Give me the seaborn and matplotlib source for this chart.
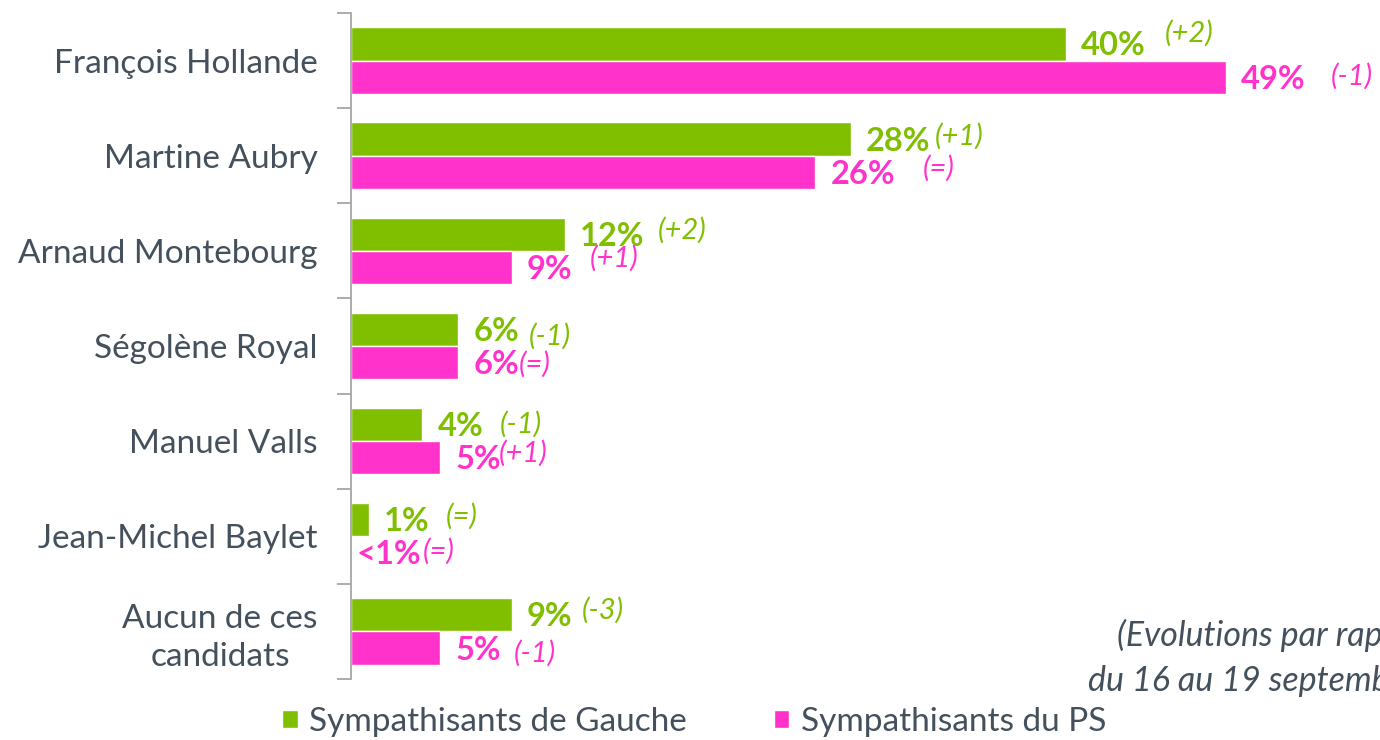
import pandas as pd
import numpy as np
import matplotlib
matplotlib.use("Agg")
import matplotlib.pyplot as plt
import seaborn as sns

# données du sondage
candidats = ["François Hollande", "Martine Aubry", "Arnaud Montebourg", "Ségolène Royal",
             "Manuel Valls", "Jean-Michel Baylet", "Aucun de ces\ncandidats"]
gauche = [40, 28, 12, 6, 4, 1, 9]
ps = [49, 26, 9, 6, 5, 0, 5]
gauche_lbl = ["40%", "28%", "12%", "6%", "4%", "1%", "9%"]
ps_lbl = ["49%", "26%", "9%", "6%", "5%", "<1%", "5%"]
gauche_evol = ["(+2)", "(+1)", "(+2)", "(-1)", "(-1)", "(=)", "(-3)"]
ps_evol = ["(-1)", "(=)", "(+1)", "(=)", "(+1)", "(=)", "(-1)"]
groupes = ["Sympathisants de Gauche", "Sympathisants du PS"]

VERT = "#7fbf00"
ROSE = "#ff33cc"
GRIS = "#44505c"

# décalages (pixels) des évolutions par rapport au bout de la barre
dec_gauche = [(99, 11), (84, 3), (92, 4), (71, -7), (77, 0), (77, 3), (70, 4)]
dec_ps = [(104, 1), (107, 4), (78, 9), (61, -2), (59, 5), (72, 2), (74, -5)]

df = pd.DataFrame({
    "candidat": candidats * 2,
    "score": gauche + ps,
    "groupe": [groupes[0]] * len(candidats) + [groupes[1]] * len(candidats),
})

sns.set_style("white")
plt.rcParams["font.family"] = ["Lato", "DejaVu Sans"]

fig = plt.figure(figsize=(13.8, 7.4), dpi=100)
ax = fig.add_axes([0.2543, 0.0824, 0.7457, 0.9])

sns.barplot(data=df, y="candidat", x="score", hue="groupe", orient="h",
            palette=[VERT, ROSE], saturation=1, width=0.7, edgecolor="white", linewidth=1,
            ax=ax, legend=True)

ax.set_xlim(0, 57.6)
ax.set_ylim(6.5, -0.5)
ax.set_xlabel("")
ax.set_ylabel("")
ax.set_xticks([])
for s in ["top", "right", "bottom"]:
    ax.spines[s].set_visible(False)
ax.spines["left"].set_color("#a6a6a6")
ax.spines["left"].set_linewidth(1.3)

ax.set_yticks(range(len(candidats)))
ax.set_yticklabels(candidats, fontsize=24, color=GRIS, linespacing=1.3)
ax.tick_params(axis="y", which="major", left=True, length=0, pad=24)
ax.set_yticks(np.arange(-0.5, len(candidats)), minor=True)
ax.tick_params(axis="y", which="minor", left=True, length=10, width=1.3,
               color="#a6a6a6", direction="out")
for t in ax.get_yticklabels():
    t.set_horizontalalignment("right")
    t.set_multialignment("center")

# étiquettes de valeurs et d'évolutions
for cont, vals, lbls, evols, decs, col in [
        (ax.containers[0], gauche, gauche_lbl, gauche_evol, dec_gauche, VERT),
        (ax.containers[1], ps, ps_lbl, ps_evol, dec_ps, ROSE)]:
    for bar, v, lb, ev, (dx, dy) in zip(cont, vals, lbls, evols, decs):
        yc = bar.get_y() + bar.get_height() / 2
        off = 15 if v > 0 else 6
        ax.annotate(lb, (v, yc), xytext=(off, -2), textcoords="offset pixels",
                    ha="left", va="center", fontsize=23.5, fontweight="bold", color=col)
        ax.annotate(ev, (v, yc), xytext=(dx, dy), textcoords="offset pixels",
                    ha="left", va="center", fontsize=21, fontstyle="italic", color=col)

ax.legend(loc="center", bbox_to_anchor=(0.503, 0.024), bbox_transform=fig.transFigure,
          ncol=2, frameon=False, fontsize=24, labelcolor=GRIS,
          handlelength=0.46, handleheight=0.46, handletextpad=0.35, columnspacing=2.6)

fig.text(1117 / 1380, 1 - 635 / 740, "(Evolutions par rapport à la vague",
         fontsize=24.5, fontstyle="italic", color=GRIS, va="center", ha="left")
fig.text(1088 / 1380, 1 - 680 / 740, "du 16 au 19 septembre)",
         fontsize=24.5, fontstyle="italic", color=GRIS, va="center", ha="left")

fig.savefig("out.png", dpi=100)
